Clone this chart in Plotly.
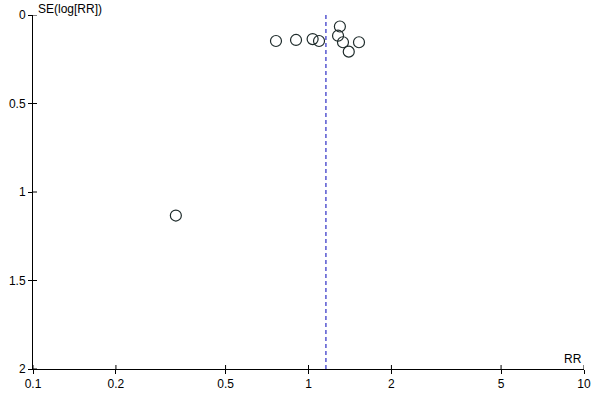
import plotly.graph_objects as go

rr = [0.762, 0.901, 1.035, 1.092, 1.30, 1.28, 1.334, 1.40, 1.525, 0.330]
se = [0.147, 0.141, 0.136, 0.147, 0.065, 0.117, 0.154, 0.207, 0.154, 1.133]
pooled_rr = 1.157
x_ticks = [0.1, 0.2, 0.5, 1, 2, 5, 10]
x_tick_labels = ["0.1", "0.2", "0.5", "1", "2", "5", "10"]
y_ticks = [0, 0.5, 1, 1.5, 2]
y_tick_labels = ["0", "0.5", "1", "1.5", "2"]

font = dict(family="Liberation Sans, Arial, sans-serif", size=12, color="#000000")

fig = go.Figure()
fig.add_trace(go.Scatter(
    x=[pooled_rr, pooled_rr], y=[0, 2], mode="lines",
    line=dict(color="#0000b8", width=1, dash="4px,3px"), showlegend=False, hoverinfo="skip"))
fig.add_trace(go.Scatter(
    x=rr, y=se, mode="markers",
    marker=dict(symbol="circle", size=11, color="rgba(255,255,255,0)",
                line=dict(color="#1e2b2b", width=1.2)),
    showlegend=False))

axis_common = dict(showgrid=False, zeroline=False, showline=True, linecolor="#000000",
                   linewidth=1, tickcolor="#000000", tickwidth=1, ticklen=4,
                   automargin=False)

# inside halves of the crossing ticks
shapes = []
for xv in x_ticks:
    shapes.append(dict(type="line", xref="x", yref="paper", ysizemode="pixel", yanchor=0,
                       x0=xv, x1=xv, y0=0, y1=4, line=dict(color="#000000", width=1)))
for yv in y_ticks:
    shapes.append(dict(type="line", xref="paper", yref="y", xsizemode="pixel", xanchor=0,
                       x0=0, x1=4, y0=yv, y1=yv, line=dict(color="#000000", width=1)))

fig.update_layout(
    width=600, height=400,
    margin=dict(l=33, r=16, t=15, b=31),
    paper_bgcolor="white", plot_bgcolor="white",
    font=font,
    xaxis=dict(type="log", range=[-1, 1], tickvals=x_ticks, ticktext=x_tick_labels,
               ticks="outside", **axis_common),
    yaxis=dict(range=[2, 0], tickvals=y_ticks, ticktext=y_tick_labels,
               ticks="outside", **axis_common),
    shapes=shapes,
    annotations=[
        dict(text="SE(log[RR])", xref="paper", yref="paper", x=0, y=1,
             xanchor="left", yanchor="bottom", xshift=3, yshift=-3, showarrow=False, font=font),
        dict(text="RR", xref="paper", yref="paper", x=1, y=0,
             xanchor="right", yanchor="bottom", yshift=1, showarrow=False, font=font),
    ],
)

# remove the browser's default 8px body margin so the figure sits at the window corner
fig.write_html("out.html", config={"displayModeBar": False},
               post_script="document.body.style.margin='0';document.body.style.overflow='hidden';")
